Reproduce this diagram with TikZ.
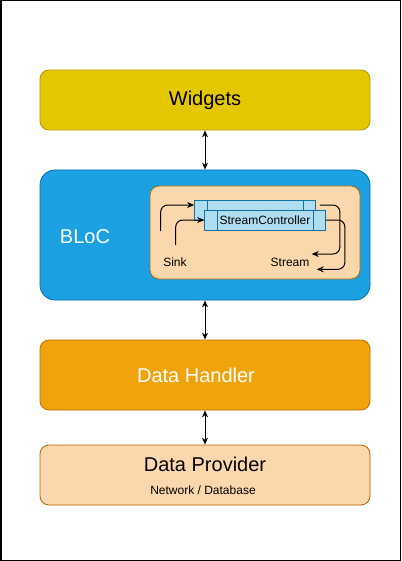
\documentclass[tikz,border=0pt]{standalone}
\usepackage{fontspec}
\setmainfont{Liberation Sans}
\usepackage{tikz}
\usetikzlibrary{arrows.meta, positioning}

\definecolor{widfill}{HTML}{E3C800}
\definecolor{widline}{HTML}{B09500}
\definecolor{blocfill}{HTML}{1BA1E2}
\definecolor{blocline}{HTML}{006EAF}
\definecolor{peachfill}{HTML}{FAD7AC}
\definecolor{peachline}{HTML}{B46504}
\definecolor{scfill}{HTML}{B1DDF0}
\definecolor{scline}{HTML}{10739E}
\definecolor{dhfill}{HTML}{F0A30A}
\definecolor{dhline}{HTML}{BD7000}

\begin{document}
\begin{tikzpicture}[x=1pt, y=-1pt,
    layer/.style={rectangle, rounded corners=9pt, minimum width=330pt,
                  line width=0.8pt, inner sep=0pt, align=center},
    widblock/.style={layer, draw=widline, fill=widfill, minimum height=60pt,
                     font=\fontsize{20}{24}\selectfont},
    blocblock/.style={layer, draw=blocline, fill=blocfill, minimum height=130pt,
                      rounded corners=15pt},
    dhblock/.style={layer, draw=dhline, fill=dhfill, minimum height=70pt},
    provblock/.style={layer, draw=peachline, fill=peachfill, minimum height=60pt},
    innerblock/.style={rectangle, rounded corners=9pt, draw=peachline, fill=peachfill,
                       minimum width=210pt, minimum height=93pt, line width=0.8pt},
    sctrl/.style={rectangle, draw=scline, fill=scfill, minimum width=121pt,
                  minimum height=20pt, inner sep=0pt, line width=0.8pt,
                  font=\fontsize{12}{14}\selectfont,
                  path picture={\draw[scline, line width=0.8pt]
                    ([xshift=12.5pt]path picture bounding box.north west) --
                    ([xshift=12.5pt]path picture bounding box.south west)
                    ([xshift=-12pt]path picture bounding box.north east) --
                    ([xshift=-12pt]path picture bounding box.south east);}},
    bigtxt/.style={font=\fontsize{20}{24}\selectfont, inner sep=0pt},
    smalltxt/.style={font=\fontsize{12}{14}\selectfont, inner sep=0pt},
    arrow/.style={{Stealth[length=7pt,width=6pt]}-{Stealth[length=7pt,width=6pt]}, line width=1pt},
    flow/.style={-{Stealth[length=7pt,width=6pt]}, line width=1pt, rounded corners=7pt},
]
\useasboundingbox (0,0) rectangle (401,561);
\draw[line width=1.5pt] (0.75,0.75) rectangle (400.25,560.25);

% layers
\node[widblock]  (wid)  at (205,100)   {Widgets};
\node[blocblock] (bloc) at (205,235)   {};
\node[dhblock]   (dh)   at (205,375)   {};
\node[provblock] (prov) at (205,475)   {};

% BLoC content
\node[bigtxt, text=white] (bloct) at (85,237) {BLoC};
\node[innerblock] (inner) at (255,232.5) {};
\node[sctrl] (scb) at (255,210)   {};
\node[sctrl] (scf) at (265,220)   {StreamController};
\node[smalltxt] (sink)   at (175,262) {Sink};
\node[smalltxt] (stream) at (290,262) {Stream};

% layer texts
\node[bigtxt, text=white] (dht) at (196,375) {Data Handler};
\node[bigtxt]   (provt) at (205,464) {Data Provider};
\node[smalltxt] (provs) at (203,490) {Network / Database};

% free ends
\coordinate (sinkin1)  at (160.7,231);
\coordinate (sinkin2)  at (175.7,245);
\coordinate (strout1)  at (311.7,254);
\coordinate (strout2)  at (316.7,269.3);

% sink side
\draw[flow] (sinkin1) |- ([yshift=5pt]scb.west);
\draw[flow] (sinkin2) |- (scf.west);
% stream side
\draw[flow] ([xshift=4pt,yshift=5pt]scb.east) -- ++(20pt,0) |- (strout1);
\draw[flow] (scf.east) -- ++(19pt,0) |- (strout2);

% between layers
\draw[arrow] (wid) -- (bloc);
\draw[arrow] (bloc) -- (dh);
\draw[arrow] (dh) -- (prov);
\end{tikzpicture}
\end{document}
